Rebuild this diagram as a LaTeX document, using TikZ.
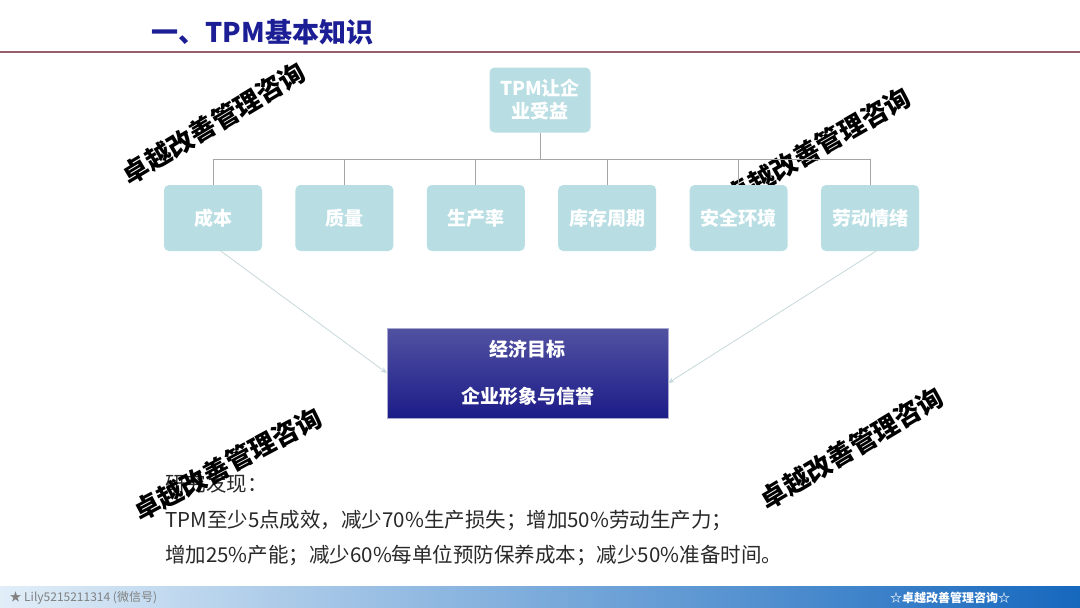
\documentclass[tikz,border=0pt]{standalone}
\usepackage{fontspec}
\setmainfont{Noto Sans CJK SC}
\usetikzlibrary{arrows.meta, positioning, calc}
\definecolor{boxteal}{RGB}{184,222,227}
\definecolor{titleblue}{RGB}{28,30,150}
\definecolor{rulered}{RGB}{150,95,110}
\definecolor{treegray}{RGB}{165,165,165}
\definecolor{linkgray}{RGB}{200,216,220}
\definecolor{goaltop}{RGB}{82,82,162}
\definecolor{goalbottom}{RGB}{28,28,136}
\definecolor{footlight}{RGB}{225,238,248}
\definecolor{footmid}{RGB}{140,188,228}
\definecolor{footblue}{RGB}{22,104,190}
\definecolor{textdark}{RGB}{40,40,40}
\tikzset{
    benefit/.style={rectangle, fill=boxteal, rounded corners=5pt, minimum width=98pt, minimum height=66pt, text=white, align=center, inner sep=2pt, font=\fontsize{19}{23}\selectfont\bfseries},
    goal/.style={rectangle, draw=goaltop!50!white, top color=goaltop, bottom color=goalbottom, minimum width=281pt, minimum height=90pt, text=white, align=center, font=\fontsize{19}{47}\selectfont\bfseries},
    tree/.style={draw=treegray, line width=0.7pt},
    link/.style={draw=linkgray, line width=0.8pt, -{Stealth[length=6pt, width=5pt]}},
    heading/.style={text=titleblue, font=\fontsize{27}{30}\selectfont\bfseries},
    finding/.style={text=textdark, anchor=base west, inner sep=0pt, font=\fontsize{20.5}{24}\selectfont},
    wmark/.style={text=black, inner sep=0pt, font=\fontsize{26}{26}\selectfont\bfseries},
}

\begin{document}
\begin{tikzpicture}[x=1pt, y=-1pt]
    \useasboundingbox (0,0) rectangle (1080,608);
    \fill[white] (0,0) rectangle (1080,608);

    % Title and rule
    \node[heading, anchor=west] (title) at (148,32) {一、TPM基本知识};
    \draw[rulered, line width=1.2pt] (0,52) -- (1080,52);

    % Watermark behind the boxes
    \node[wmark, rotate=30] (wm2) at (818,147) {卓越改善管理咨询};

    % Root box
    \node[benefit, minimum width=101pt, minimum height=65pt] (root) at (540,100) {TPM让企\\业受益};

    % Six benefit boxes
    \foreach \name/\txt [count=\i from 0] in {cost/成本, quality/质量, output/生产率, stock/库存周期, safety/安全环境, morale/劳动情绪}
        \node[benefit] (\name) at (213+131.4*\i,218) {\txt};

    % Tree connectors
    \coordinate (hub) at ($(root.south)+(0,27)$);
    \draw[tree] (root.south) -- (hub);
    \foreach \name in {cost, quality, output, stock, safety, morale}
        \draw[tree] (\name.north) |- (hub);

    % Goal box
    \node[goal] (goal) at (527.5,373) {经济目标\\企业形象与信誉};

    % Arrows into the goal
    \draw[link] ([xshift=8pt]cost.south) -- (goal.west);
    \draw[link] ([xshift=6pt]morale.south) -- ([yshift=-10pt]goal.east);

    % Findings
    \node[finding] (find1) at (165,491) {研究发现：};
    \node[finding] (find2) at (165,527) {TPM至少5点成效，减少70\%生产损失；增加50\%劳动生产力；};
    \node[finding] (find3) at (165,562) {增加25\%产能；减少60\%每单位预防保养成本；减少50\%准备时间。};

    % Footer band
    \shade[left color=footlight, middle color=footmid, right color=footblue] (0,586) rectangle (1080,608);
    \node[anchor=west, text=gray, font=\fontsize{12}{14}\selectfont] (wechat) at (6,598) {★ Lily5215211314 (微信号)};
    \node[text=white, font=\fontsize{12}{14}\selectfont\bfseries] (brand) at (950,598) {☆卓越改善管理咨询☆};

    % Watermarks on top
    \node[wmark, rotate=31] (wm1) at (214,123) {卓越改善管理咨询};
    \node[wmark, rotate=28] (wm3) at (228,464) {卓越改善管理咨询};
    \node[wmark, rotate=31] (wm4) at (852,448) {卓越改善管理咨询};
\end{tikzpicture}
\end{document}
